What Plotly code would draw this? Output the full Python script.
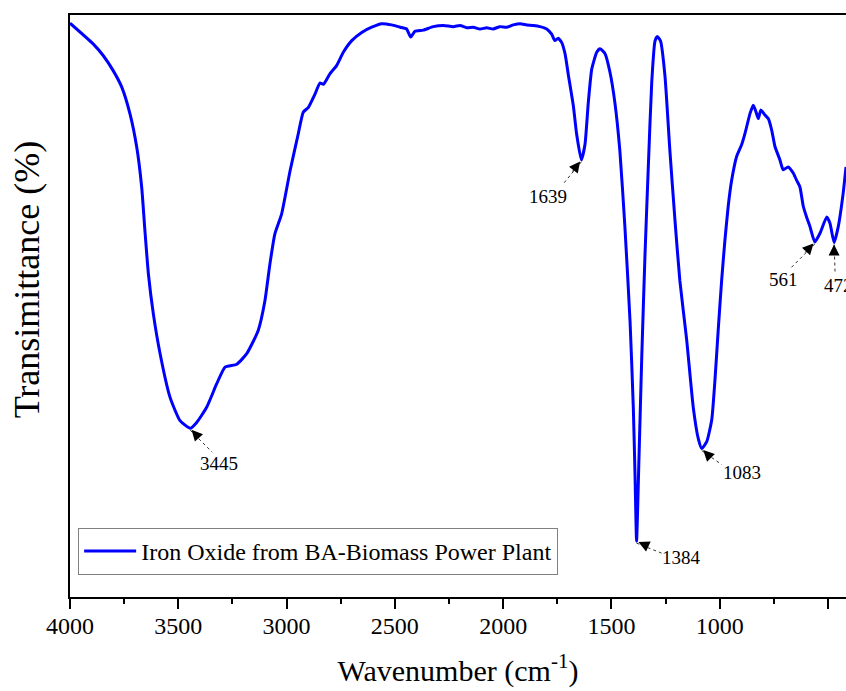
import plotly.graph_objects as go

# FTIR spectrum
wavenumber = [4000, 3892, 3846, 3800, 3761, 3723, 3692, 3669, 3654, 3638, 3615, 3584, 3538, 3492, 3445,
              3415, 3369, 3323, 3284, 3230, 3184, 3131, 3100, 3077, 3054, 3023, 2984, 2946, 2923, 2900,
              2869, 2846, 2830, 2800, 2769, 2738, 2699, 2653, 2607, 2561, 2515, 2476, 2446, 2427, 2407,
              2369, 2323, 2276, 2230, 2199, 2168, 2138, 2107, 2076, 2046, 2015, 1984, 1953, 1922, 1891,
              1861, 1830, 1799, 1776, 1761, 1746, 1730, 1714, 1699, 1676, 1661, 1639, 1622, 1607, 1591,
              1568, 1553, 1530, 1507, 1484, 1461, 1438, 1414, 1399, 1391, 1384, 1373, 1360, 1345, 1330,
              1314, 1299, 1288, 1273, 1253, 1230, 1207, 1184, 1153, 1122, 1099, 1083, 1060, 1037, 1022,
              1007, 991, 976, 961, 945, 922, 899, 883, 860, 845, 833, 822, 810, 791, 776,
              760, 745, 722, 707, 684, 660, 645, 630, 614, 599, 583, 561, 537, 506, 491,
              472, 453, 430, 417]
transmittance = [98.6, 95.0, 93.0, 90.4, 87.6, 83.0, 77.3, 70.4, 62.9, 55.5, 48.6, 41.8, 34.3, 30.3, 29.0,
                 30.0, 32.6, 36.6, 39.5, 40.0, 41.8, 45.8, 50.9, 57.2, 62.4, 65.8, 73.2, 79.6, 83.3, 84.1,
                 86.4, 88.3, 88.1, 89.9, 91.3, 93.6, 95.6, 97.0, 97.9, 98.5, 98.3, 97.9, 97.6, 96.2, 97.2,
                 97.4, 98.0, 98.2, 98.0, 98.2, 97.8, 97.9, 97.6, 97.8, 97.6, 98.0, 97.9, 98.3, 98.5, 98.3,
                 98.2, 98.0, 97.6, 96.7, 95.6, 96.0, 95.3, 93.3, 89.7, 84.4, 79.6, 75.1, 77.8, 84.9, 90.7,
                 93.6, 94.2, 93.4, 90.2, 84.9, 76.6, 63.7, 47.3, 32.5, 20.8, 9.6, 23.7, 41.3, 58.9, 73.7,
                 88.4, 95.5, 96.3, 95.5, 89.6, 76.6, 64.9, 54.3, 44.3, 32.5, 27.2, 25.5, 26.7, 30.4, 37.3,
                 45.9, 54.5, 61.3, 67.1, 71.6, 75.7, 77.7, 79.7, 83.1, 84.5, 83.4, 82.2, 83.7, 82.8, 82.2,
                 80.2, 77.4, 75.1, 73.4, 73.9, 72.8, 71.6, 70.5, 67.1, 65.3, 63.6, 61.0, 62.5, 65.3, 64.2,
                 60.9, 63.6, 69.4, 73.9]
assert len(wavenumber) == len(transmittance), (len(wavenumber), len(transmittance))

series_name = "Iron Oxide from BA-Biomass Power Plant"
peak_labels = ["3445", "1639", "1384", "1083", "561", "472"]
x_tickvals = [4000, 3500, 3000, 2500, 2000, 1500, 1000, 500]

# label layout (pixel offsets from the peak tip): text centre, dotted-line end, arrow tail
label_style = {
    "3445": dict(text=(29, -35), line=(22, -24), head=(10, -11)),
    "1639": dict(text=(-33, -37), line=(-19, -25), head=(-10, -13)),
    "1384": dict(text=(45, -16), line=(25, -12), head=(13, -6)),
    "1083": dict(text=(40, -24), line=(20, -16), head=(10, -10)),
    "561": dict(text=(-31, -38), line=(-25, -27), head=(-11, -12)),
    "472": dict(text=(4, -43), line=(1, -30), head=(0, -14)),
}

FONT = "Liberation Serif"

fig = go.Figure()
fig.add_trace(go.Scatter(
    x=wavenumber, y=transmittance, mode="lines", name=series_name,
    line=dict(color="#0000FF", width=3, shape="spline", smoothing=0.5),
    showlegend=True,
))

lookup = dict(zip(wavenumber, transmittance))
for lab in peak_labels:
    wn = int(lab)
    t = lookup[wn]
    st = label_style[lab]
    tx, ty = st["text"]
    lx, ly = st["line"]
    hx, hy = st["head"]
    # dotted leader
    fig.add_shape(type="line", xref="x", yref="y",
                  xsizemode="pixel", ysizemode="pixel", xanchor=wn, yanchor=t,
                  x0=0, y0=-2, x1=lx, y1=ly,
                  line=dict(color="#333333", width=1, dash="dot"))
    # arrow head
    fig.add_annotation(x=wn, y=t, xref="x", yref="y", text="", showarrow=True,
                       ax=hx, ay=-hy, axref="pixel", ayref="pixel",
                       arrowhead=2, arrowsize=2.2, arrowwidth=1, arrowcolor="black",
                       standoff=2)
    # label
    fig.add_annotation(x=wn, y=t, xref="x", yref="y", text=lab, showarrow=False,
                       xshift=tx, yshift=ty, font=dict(family=FONT, size=19, color="black"))

# y-axis title (placed as in the reference, slightly above the plot centre)
fig.add_annotation(text="Transimittance (%)", xref="paper", yref="paper",
                   x=-0.056, y=0.545, xanchor="center", yanchor="middle",
                   textangle=-90, showarrow=False,
                   font=dict(family=FONT, size=36, color="black"))

fig.update_layout(
    width=846, height=691,
    margin=dict(l=70, r=0, t=15, b=94),
    paper_bgcolor="white", plot_bgcolor="white",
    font=dict(family=FONT, color="black"),
    legend=dict(x=0.0105, y=0.038, xanchor="left", yanchor="bottom",
                bgcolor="white", bordercolor="#808080", borderwidth=1,
                itemwidth=52,
                font=dict(family=FONT, size=24, color="black")),
)
fig.update_xaxes(
    range=[4000, 417], showgrid=False, zeroline=False,
    showline=True, linecolor="black", linewidth=2, mirror=True,
    ticks="outside", ticklen=10, tickwidth=2, tickcolor="black",
    ticklabelstandoff=-4,
    tickvals=x_tickvals, tickfont=dict(family=FONT, size=24, color="black"),
    minor=dict(dtick=250, tick0=0, ticks="outside", ticklen=5, tickwidth=2, tickcolor="black"),
    title=dict(text="Wavenumber (cm<sup>-1</sup>)", font=dict(family=FONT, size=30, color="black"),
               standoff=22),
)
fig.update_yaxes(
    range=[0, 100], showgrid=False, zeroline=False,
    showline=True, linecolor="black", linewidth=2, mirror=False,
    ticks="", showticklabels=False,
)

fig.write_html("out.html")
